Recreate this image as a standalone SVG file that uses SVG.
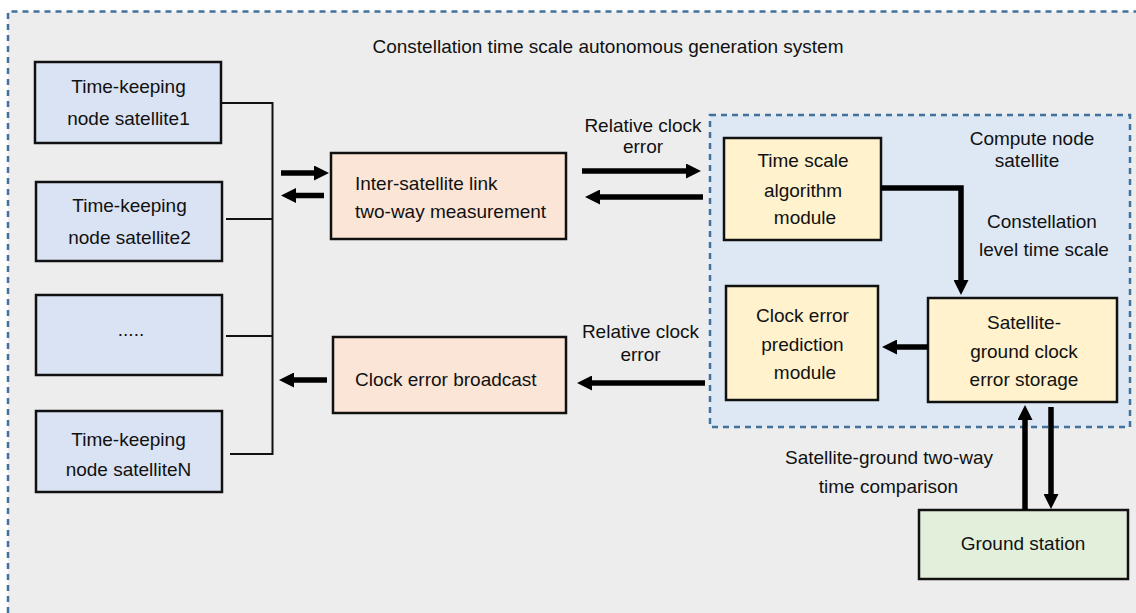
<svg xmlns="http://www.w3.org/2000/svg" width="1136" height="613" viewBox="0 0 1136 613">
<style>
text{font-family:"Liberation Sans",Arial,sans-serif;font-size:19px;fill:#111}
.m{text-anchor:middle}
.box{stroke:#111;stroke-width:2.5}
.blue{fill:#dae3f3}.peach{fill:#fbe5d6}.yellow{fill:#fff2cc}.green{fill:#e2efda}
.dash{fill:none;stroke:#41719c;stroke-width:2.5;stroke-dasharray:6 5}
.bus{fill:none;stroke:#111;stroke-width:2}
.arr{fill:none;stroke:#000;stroke-width:5.5;marker-end:url(#ah)}
</style>
<defs>
<marker id="ah" markerUnits="userSpaceOnUse" markerWidth="15" markerHeight="15" refX="1" refY="7.5" orient="auto" viewBox="0 0 15 15">
<path d="M0,0 L15,7.5 L0,15 z" fill="#000"/>
</marker>
</defs>
<rect width="1136" height="613" fill="#fff"/>
<g id="system">
<rect x="8" y="11.5" width="1128" height="602" fill="#ededed"/>
<path class="dash" d="M8,613 V11.5 H1136"/>
<text class="m" x="608" y="52.5">Constellation time scale autonomous generation system</text>
</g>
<g id="compute-node">
<rect x="710" y="115" width="420" height="312" fill="#dee8f5"/>
<rect class="dash" x="710" y="115" width="420" height="312"/>
<text class="m" x="1032" y="145">Compute node</text>
<text class="m" x="1027" y="167">satellite</text>
</g>
<g id="sat1"><rect class="box blue" x="35" y="62" width="186" height="81"/>
<text class="m" x="128.5" y="93">Time-keeping</text><text class="m" x="128.5" y="125">node satellite1</text></g>
<g id="sat2"><rect class="box blue" x="36" y="182" width="186" height="79"/>
<text class="m" x="129.5" y="212">Time-keeping</text><text class="m" x="129.5" y="243.5">node satellite2</text></g>
<g id="satdots"><rect class="box blue" x="36" y="295" width="186" height="80"/>
<text class="m" x="131" y="336">.....</text></g>
<g id="satN"><rect class="box blue" x="36" y="411" width="186" height="81"/>
<text class="m" x="128.5" y="446">Time-keeping</text><text class="m" x="128.5" y="476">node satelliteN</text></g>
<g id="isl"><rect class="box peach" x="331" y="153" width="235" height="86"/>
<text x="355" y="190">Inter-satellite link</text><text x="355" y="218">two-way measurement</text></g>
<g id="broadcast"><rect class="box peach" x="333" y="337" width="233" height="76"/>
<text x="355" y="386">Clock error broadcast</text></g>
<g id="tsa"><rect class="box yellow" x="724" y="138" width="157" height="102"/>
<text class="m" x="803" y="167">Time scale</text><text class="m" x="803" y="196.5">algorithm</text><text class="m" x="805" y="224">module</text></g>
<g id="cep"><rect class="box yellow" x="726" y="286" width="152" height="114"/>
<text class="m" x="802.5" y="322">Clock error</text><text class="m" x="802.5" y="350.5">prediction</text><text class="m" x="805" y="379">module</text></g>
<g id="storage"><rect class="box yellow" x="928" y="298" width="189" height="104"/>
<text class="m" x="1024" y="329">Satellite-</text><text class="m" x="1024" y="357.5">ground clock</text><text class="m" x="1024" y="385.5">error storage</text></g>
<g id="ground"><rect class="box green" x="919" y="510" width="209" height="69"/>
<text class="m" x="1023" y="550">Ground station</text></g>
<g id="labels">
<text class="m" x="643" y="131.5">Relative clock</text><text class="m" x="643" y="152.5">error</text>
<text class="m" x="640.5" y="338">Relative clock</text><text class="m" x="640.5" y="361">error</text>
<text class="m" x="1042" y="227.5">Constellation</text><text class="m" x="1044" y="256">level time scale</text>
<text class="m" x="889" y="464">Satellite-ground two-way</text><text class="m" x="888.5" y="493">time comparison</text>
</g>
<g id="connectors">
<path class="bus" d="M221,103 H272.5 V454 H230 M226,219 H272.5 M226,336 H272.5"/>
<path class="arr" d="M281,173 H315"/>
<path class="arr" d="M324,195.5 H295"/>
<path class="arr" d="M582,171 H687"/>
<path class="arr" d="M703,197 H599"/>
<path class="arr" d="M705,383 H591"/>
<path class="arr" d="M327,380 H293"/>
<path class="arr" d="M881,188 H961 V281"/>
<path class="arr" d="M928,347 H896"/>
<path class="arr" d="M1025,510 V419"/>
<path class="arr" d="M1051,407 V495"/>
</g>
</svg>
